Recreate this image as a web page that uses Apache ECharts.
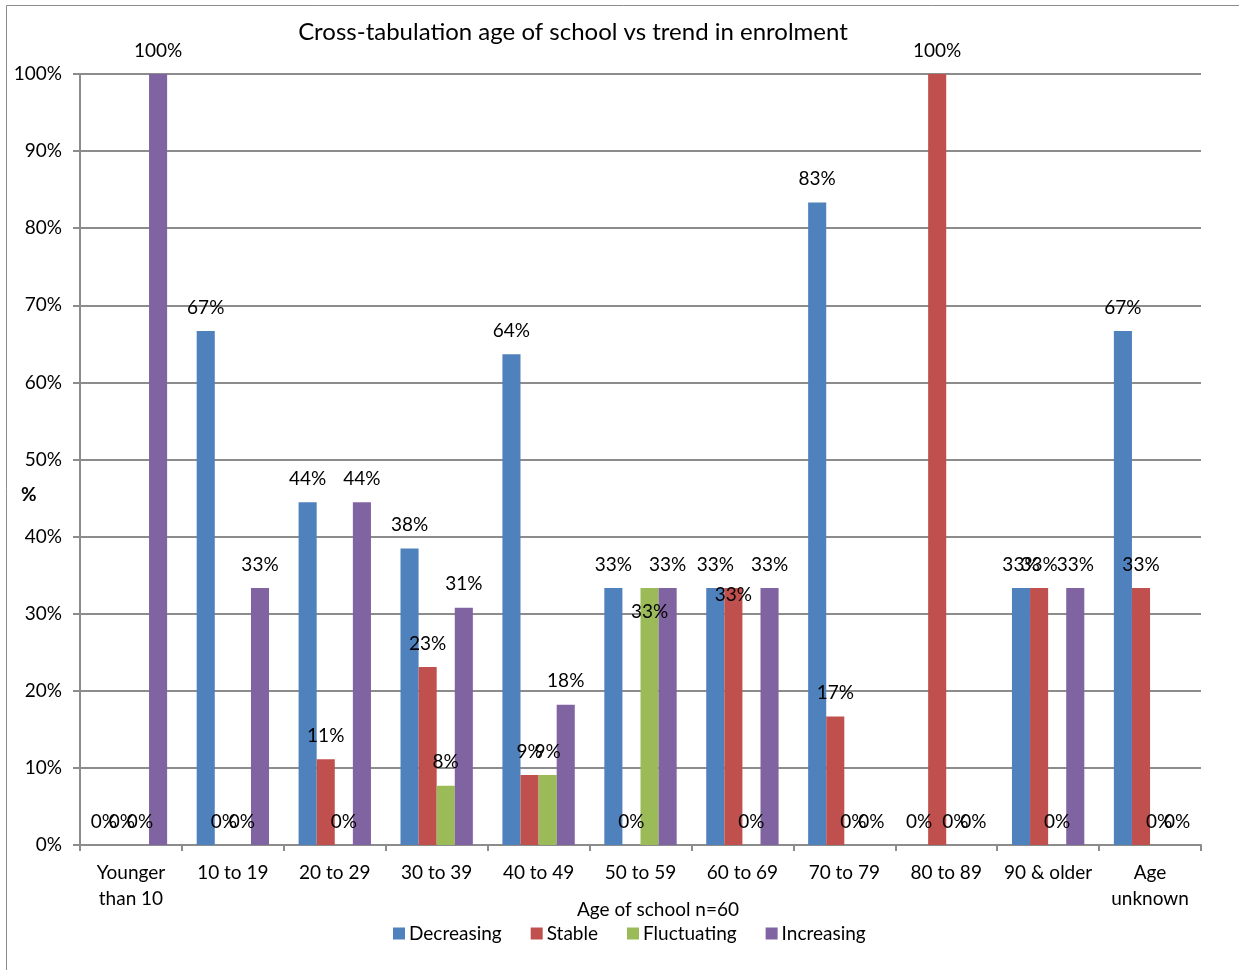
<!DOCTYPE html>
<html>
<head>
<meta charset="utf-8">
<script src="https://cdn.jsdelivr.net/npm/echarts@6/dist/echarts.min.js"></script>
<style>
  html, body { margin: 0; padding: 0; background: #fff; }
  #chart { width: 1239px; height: 970px; }
</style>
</head>
<body>
<div id="chart"></div>
<script>
// Age bands of the schools
const categories = ['Younger\nthan 10', '10 to 19', '20 to 29', '30 to 39', '40 to 49',
  '50 to 59', '60 to 69', '70 to 79', '80 to 89', '90 & older', 'Age\nunknown'];

// Share of schools (%) in each enrolment trend, per age band
const decreasing  = [0, 66.67, 44.44, 38.46, 63.64, 33.33, 33.33, 83.33, 0, 33.33, 66.67];
const stable      = [0, 0, 11.11, 23.08, 9.09, 0, 33.33, 16.67, 100, 33.33, 33.33];
const fluctuating = [0, 0, 0, 7.69, 9.09, 33.33, 0, 0, 0, 0, 0];
const increasing  = [100, 33.33, 44.44, 30.77, 18.18, 33.33, 33.33, 0, 0, 33.33, 0];

const seriesNames = ['Decreasing', 'Stable', 'Fluctuating', 'Increasing'];
const colors = ['#4F81BD', '#C0504D', '#9BBB59', '#8064A2'];

// Value-axis ticks
const yTicks = [0, 10, 20, 30, 40, 50, 60, 70, 80, 90, 100];

// Labels that are nudged down to keep clear of neighbours
const labelShift = { 'Fluctuating|5': 47, 'Stable|6': 30 };

const FONT = 'Lato, "Open Sans", sans-serif';
const FS = 19;
const chart = echarts.init(document.getElementById('chart'));

function makeSeries(name, values, idx) {
  return {
    name: name,
    type: 'bar',
    barGap: '0%',
    barCategoryGap: '29%',
    itemStyle: { color: colors[idx] },
    label: {
      show: true,
      position: 'top',
      distance: 14,
      color: '#000',
      fontFamily: FONT,
      fontSize: FS,
      formatter: p => Math.round(p.value) + '%'
    },
    data: values.map((v, i) => {
      const shift = labelShift[name + '|' + i];
      return shift ? { value: v, label: { offset: [0, shift] } } : v;
    })
  };
}

chart.setOption({
  animation: false,
  textStyle: { fontFamily: FONT },
  title: {
    text: 'Cross-tabulation age of school vs trend in enrolment',
    left: 568, top: 15, textAlign: 'center',
    textStyle: { fontFamily: FONT, fontSize: 24, fontWeight: 'normal', color: '#000' }
  },
  legend: {
    data: seriesNames,
    left: 388, top: 919,
    itemWidth: 12, itemHeight: 12, itemGap: 29,
    icon: 'rect',
    textStyle: { fontFamily: FONT, fontSize: FS, color: '#000', padding: [0, 0, 0, -1] }
  },
  grid: { left: 80, right: 38, top: 74, bottom: 125, containLabel: false },
  xAxis: {
    type: 'category',
    data: categories,
    axisLine: { lineStyle: { color: '#8c8c8c', width: 2 } },
    axisTick: { show: true, length: 6, lineStyle: { color: '#8c8c8c', width: 2 } },
    axisLabel: { color: '#000', fontFamily: FONT, fontSize: FS, lineHeight: 26, margin: 15, interval: 0 }
  },
  yAxis: {
    type: 'value',
    min: yTicks[0], max: yTicks[yTicks.length - 1], interval: 10,
    axisLine: { show: true, lineStyle: { color: '#8c8c8c', width: 2 } },
    axisTick: { show: true, length: 7, lineStyle: { color: '#8c8c8c', width: 2 } },
    splitLine: { lineStyle: { color: '#8c8c8c', width: 2 } },
    axisLabel: { color: '#000', fontFamily: FONT, fontSize: FS, margin: 18, formatter: v => v + '%' }
  },
  graphic: [
    { type: 'rect', shape: { x: 6.5, y: 5.5, width: 1400, height: 1100 },
      style: { fill: 'none', stroke: '#8c8c8c', lineWidth: 1 }, z: -1 },
    { type: 'text', left: 21, top: 485,
      style: { text: '%', font: 'bold ' + FS + 'px ' + FONT, fill: '#000' } },
    { type: 'text', left: 577, top: 900,
      style: { text: 'Age of school n=60', font: FS + 'px ' + FONT, fill: '#000' } }
  ],
  series: [
    makeSeries('Decreasing', decreasing, 0),
    makeSeries('Stable', stable, 1),
    makeSeries('Fluctuating', fluctuating, 2),
    makeSeries('Increasing', increasing, 3)
  ]
});
</script>
</body>
</html>
